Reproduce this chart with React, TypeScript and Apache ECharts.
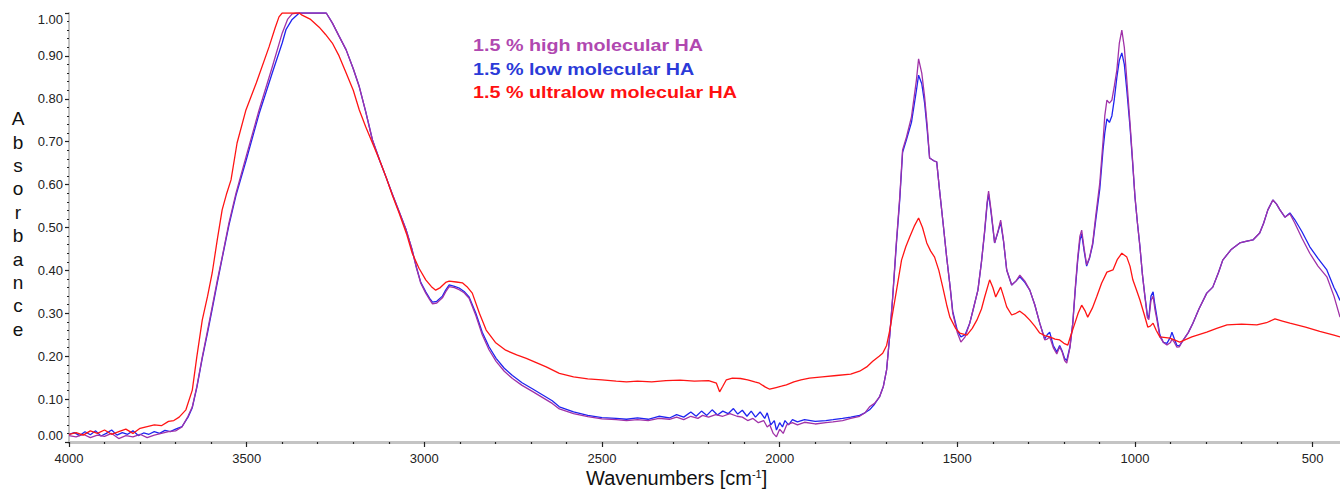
import React, { useEffect, useRef } from "react";
import * as echarts from "echarts";

// [wavenumber cm-1, absorbance]
const highMolecularHA: [number, number][] = [
  [4000, 0.015], [3980, 0.012], [3960, 0.018], [3940, 0.01], [3920, 0.016], [3900, 0.013], [3880, 0.02], [3860, 0.008],
  [3840, 0.015], [3820, 0.012], [3800, 0.018], [3780, 0.01], [3760, 0.016], [3740, 0.02], [3720, 0.024], [3700, 0.026],
  [3682, 0.035], [3665, 0.06], [3653, 0.082], [3640, 0.13], [3625, 0.198], [3610, 0.26], [3597, 0.315], [3583, 0.375],
  [3569, 0.431], [3550, 0.51], [3530, 0.58], [3502, 0.664], [3465, 0.774], [3428, 0.874], [3400, 0.953], [3385, 0.985],
  [3372, 0.998], [3360, 1.0], [3276, 1.0], [3259, 0.977], [3240, 0.946], [3220, 0.914], [3200, 0.87], [3183, 0.828],
  [3165, 0.77], [3146, 0.704], [3125, 0.655], [3108, 0.618], [3091, 0.58], [3070, 0.535], [3051, 0.494], [3035, 0.45],
  [3023, 0.408], [3010, 0.37], [2996, 0.347], [2985, 0.332], [2977, 0.322], [2965, 0.324], [2949, 0.336], [2940, 0.35],
  [2930, 0.362], [2915, 0.36], [2902, 0.355], [2888, 0.348], [2874, 0.335], [2855, 0.295], [2837, 0.25], [2818, 0.215],
  [2798, 0.188], [2775, 0.165], [2752, 0.148], [2725, 0.132], [2696, 0.118], [2668, 0.104], [2640, 0.09], [2620, 0.077],
  [2580, 0.066], [2540, 0.059], [2500, 0.054], [2460, 0.052], [2431, 0.05], [2400, 0.052], [2370, 0.05], [2340, 0.055],
  [2310, 0.053], [2290, 0.058], [2270, 0.052], [2250, 0.06], [2230, 0.055], [2217, 0.062], [2200, 0.058], [2180, 0.064],
  [2160, 0.06], [2140, 0.066], [2120, 0.06], [2105, 0.058], [2090, 0.05], [2075, 0.055], [2060, 0.045], [2045, 0.05],
  [2035, 0.035], [2028, 0.04], [2018, 0.02], [2009, 0.012], [2000, 0.03], [1990, 0.02], [1980, 0.04], [1964, 0.045],
  [1950, 0.04], [1930, 0.046], [1900, 0.042], [1870, 0.045], [1850, 0.047], [1823, 0.05], [1800, 0.055], [1775, 0.06],
  [1760, 0.068], [1747, 0.082], [1733, 0.09], [1719, 0.105], [1708, 0.13], [1699, 0.168], [1690, 0.25], [1682, 0.338],
  [1672, 0.46], [1662, 0.571], [1654, 0.681], [1643, 0.711], [1629, 0.758], [1615, 0.844], [1609, 0.893], [1600, 0.86],
  [1592, 0.804], [1585, 0.74], [1578, 0.662], [1565, 0.655], [1558, 0.653], [1550, 0.587], [1540, 0.51], [1530, 0.431],
  [1520, 0.36], [1513, 0.301], [1500, 0.255], [1490, 0.233], [1478, 0.245], [1465, 0.277], [1455, 0.31], [1442, 0.354],
  [1432, 0.42], [1423, 0.494], [1416, 0.56], [1412, 0.585], [1405, 0.54], [1395, 0.464], [1386, 0.49], [1378, 0.517],
  [1370, 0.47], [1361, 0.401], [1347, 0.366], [1335, 0.375], [1324, 0.389], [1310, 0.375], [1296, 0.354], [1282, 0.32],
  [1268, 0.277], [1254, 0.238], [1247, 0.24], [1240, 0.245], [1230, 0.22], [1220, 0.205], [1212, 0.222], [1205, 0.21],
  [1198, 0.19], [1192, 0.184], [1183, 0.22], [1175, 0.277], [1168, 0.36], [1161, 0.431], [1155, 0.48], [1150, 0.494],
  [1143, 0.45], [1136, 0.413], [1128, 0.43], [1119, 0.464], [1110, 0.53], [1099, 0.604], [1090, 0.7], [1085, 0.76],
  [1079, 0.797], [1072, 0.79], [1065, 0.797], [1058, 0.83], [1051, 0.867], [1044, 0.93], [1037, 0.96], [1030, 0.92],
  [1023, 0.844], [1014, 0.744], [1007, 0.66], [1000, 0.571], [993, 0.51], [986, 0.455], [979, 0.39], [972, 0.338],
  [965, 0.29], [961, 0.285], [955, 0.33], [949, 0.34], [944, 0.31], [938, 0.284], [930, 0.245], [920, 0.232],
  [910, 0.226], [900, 0.232], [896, 0.24], [889, 0.232], [882, 0.221], [875, 0.222], [868, 0.233], [850, 0.255],
  [837, 0.277], [820, 0.31], [798, 0.347], [781, 0.361], [765, 0.395], [753, 0.424], [730, 0.448], [705, 0.464],
  [685, 0.468], [668, 0.471], [649, 0.487], [638, 0.51], [626, 0.541], [612, 0.564], [602, 0.555], [592, 0.541],
  [578, 0.524], [564, 0.532], [550, 0.51], [530, 0.475], [508, 0.44], [485, 0.41], [460, 0.385], [440, 0.34], [423, 0.291],
];

const lowMolecularHA: [number, number][] = [
  [4000, 0.018], [3985, 0.022], [3970, 0.015], [3955, 0.024], [3940, 0.017], [3925, 0.026], [3910, 0.014], [3895, 0.02],
  [3880, 0.028], [3865, 0.016], [3850, 0.022], [3835, 0.018], [3820, 0.026], [3805, 0.015], [3790, 0.021], [3775, 0.018],
  [3760, 0.024], [3745, 0.02], [3730, 0.027], [3715, 0.024], [3700, 0.03], [3682, 0.036], [3665, 0.058], [3653, 0.08],
  [3640, 0.128], [3625, 0.195], [3610, 0.255], [3597, 0.31], [3583, 0.37], [3569, 0.428], [3550, 0.505], [3530, 0.575],
  [3502, 0.655], [3465, 0.765], [3428, 0.86], [3400, 0.93], [3389, 0.962], [3372, 0.985], [3352, 1.0], [3276, 1.0],
  [3259, 0.977], [3240, 0.946], [3220, 0.914], [3200, 0.87], [3183, 0.828], [3165, 0.77], [3146, 0.704], [3125, 0.655],
  [3108, 0.618], [3091, 0.58], [3070, 0.535], [3051, 0.494], [3035, 0.45], [3023, 0.41], [3010, 0.372], [2996, 0.35],
  [2985, 0.335], [2977, 0.326], [2965, 0.328], [2949, 0.34], [2940, 0.354], [2930, 0.366], [2915, 0.363], [2902, 0.359],
  [2888, 0.351], [2874, 0.338], [2855, 0.3], [2837, 0.256], [2818, 0.222], [2798, 0.195], [2775, 0.172], [2752, 0.155],
  [2725, 0.138], [2696, 0.124], [2668, 0.11], [2640, 0.096], [2620, 0.082], [2580, 0.07], [2540, 0.062], [2500, 0.057],
  [2460, 0.055], [2431, 0.053], [2400, 0.056], [2370, 0.053], [2340, 0.06], [2310, 0.056], [2290, 0.064], [2270, 0.058],
  [2250, 0.07], [2235, 0.06], [2220, 0.072], [2205, 0.062], [2190, 0.075], [2175, 0.063], [2160, 0.072], [2145, 0.066],
  [2130, 0.078], [2118, 0.065], [2105, 0.074], [2092, 0.06], [2080, 0.072], [2068, 0.058], [2055, 0.07], [2042, 0.055],
  [2035, 0.068], [2025, 0.04], [2015, 0.05], [2009, 0.028], [2000, 0.045], [1992, 0.035], [1985, 0.05], [1975, 0.04],
  [1964, 0.052], [1950, 0.047], [1930, 0.052], [1900, 0.048], [1870, 0.05], [1850, 0.052], [1823, 0.055], [1800, 0.058],
  [1775, 0.062], [1760, 0.068], [1747, 0.075], [1733, 0.088], [1719, 0.105], [1708, 0.13], [1699, 0.168], [1690, 0.25],
  [1682, 0.335], [1672, 0.455], [1662, 0.565], [1654, 0.675], [1643, 0.705], [1629, 0.745], [1615, 0.82], [1609, 0.855],
  [1600, 0.835], [1592, 0.79], [1585, 0.73], [1578, 0.662], [1565, 0.655], [1558, 0.653], [1550, 0.587], [1540, 0.51],
  [1530, 0.431], [1520, 0.36], [1513, 0.305], [1500, 0.26], [1490, 0.245], [1478, 0.25], [1465, 0.277], [1455, 0.31],
  [1442, 0.354], [1432, 0.42], [1423, 0.49], [1416, 0.555], [1412, 0.578], [1405, 0.535], [1395, 0.464], [1386, 0.488],
  [1378, 0.512], [1370, 0.468], [1361, 0.401], [1347, 0.366], [1335, 0.375], [1324, 0.385], [1310, 0.372], [1296, 0.354],
  [1282, 0.32], [1268, 0.277], [1254, 0.24], [1247, 0.25], [1240, 0.256], [1230, 0.225], [1220, 0.21], [1212, 0.225],
  [1205, 0.212], [1198, 0.195], [1192, 0.19], [1183, 0.222], [1175, 0.277], [1168, 0.355], [1161, 0.425], [1155, 0.47],
  [1150, 0.485], [1143, 0.445], [1136, 0.41], [1128, 0.428], [1119, 0.46], [1110, 0.52], [1099, 0.59], [1090, 0.68],
  [1085, 0.72], [1079, 0.753], [1072, 0.745], [1065, 0.76], [1058, 0.8], [1051, 0.85], [1044, 0.89], [1037, 0.907],
  [1030, 0.88], [1023, 0.82], [1014, 0.735], [1007, 0.655], [1000, 0.571], [993, 0.51], [986, 0.455], [979, 0.39],
  [972, 0.34], [965, 0.295], [961, 0.29], [955, 0.34], [949, 0.35], [944, 0.32], [938, 0.29], [930, 0.25],
  [920, 0.232], [910, 0.23], [900, 0.245], [896, 0.256], [889, 0.24], [882, 0.225], [875, 0.224], [868, 0.233],
  [850, 0.255], [837, 0.277], [820, 0.31], [798, 0.347], [781, 0.361], [765, 0.395], [753, 0.424], [730, 0.448],
  [705, 0.464], [685, 0.468], [668, 0.471], [649, 0.487], [638, 0.51], [626, 0.541], [612, 0.564], [602, 0.555],
  [592, 0.541], [578, 0.524], [564, 0.534], [550, 0.518], [530, 0.49], [508, 0.455], [485, 0.428], [460, 0.401],
  [440, 0.36], [432, 0.347], [423, 0.33],
];

const ultralowMolecularHA: [number, number][] = [
  [4000, 0.018], [3980, 0.022], [3960, 0.016], [3940, 0.026], [3920, 0.02], [3900, 0.028], [3880, 0.018], [3860, 0.024],
  [3840, 0.03], [3820, 0.02], [3800, 0.032], [3780, 0.036], [3760, 0.04], [3740, 0.038], [3720, 0.048], [3705, 0.05],
  [3690, 0.058], [3671, 0.075], [3653, 0.121], [3640, 0.2], [3625, 0.284], [3610, 0.34], [3597, 0.394], [3583, 0.47],
  [3569, 0.541], [3556, 0.58], [3544, 0.611], [3527, 0.697], [3502, 0.774], [3473, 0.837], [3437, 0.921], [3420, 0.965],
  [3409, 0.991], [3400, 1.0], [3352, 1.0], [3344, 0.995], [3320, 0.985], [3296, 0.967], [3278, 0.95], [3259, 0.93],
  [3240, 0.9], [3220, 0.86], [3200, 0.82], [3183, 0.774], [3165, 0.735], [3146, 0.697], [3125, 0.655], [3108, 0.618],
  [3090, 0.575], [3071, 0.534], [3050, 0.485], [3034, 0.44], [3015, 0.405], [2996, 0.378], [2980, 0.362], [2968, 0.354],
  [2955, 0.36], [2940, 0.372], [2930, 0.375], [2910, 0.373], [2893, 0.371], [2880, 0.362], [2865, 0.347], [2845, 0.3],
  [2826, 0.261], [2800, 0.232], [2771, 0.214], [2740, 0.203], [2713, 0.195], [2685, 0.185], [2657, 0.175], [2620, 0.16],
  [2580, 0.152], [2540, 0.147], [2500, 0.145], [2460, 0.142], [2431, 0.14], [2400, 0.142], [2360, 0.14], [2320, 0.143],
  [2280, 0.144], [2240, 0.142], [2200, 0.143], [2178, 0.137], [2169, 0.117], [2160, 0.13], [2150, 0.145], [2133, 0.149],
  [2110, 0.148], [2090, 0.145], [2070, 0.14], [2057, 0.137], [2040, 0.128], [2028, 0.123], [2010, 0.127], [1995, 0.13],
  [1981, 0.133], [1960, 0.14], [1940, 0.145], [1916, 0.149], [1880, 0.152], [1840, 0.155], [1800, 0.158], [1775, 0.165],
  [1755, 0.175], [1738, 0.188], [1720, 0.2], [1710, 0.207], [1699, 0.225], [1690, 0.261], [1680, 0.31], [1671, 0.354],
  [1657, 0.424], [1645, 0.455], [1634, 0.478], [1620, 0.505], [1609, 0.522], [1598, 0.5], [1586, 0.464], [1575, 0.445],
  [1564, 0.431], [1552, 0.4], [1541, 0.361], [1530, 0.32], [1521, 0.291], [1505, 0.265], [1493, 0.254], [1473, 0.249],
  [1458, 0.265], [1445, 0.284], [1432, 0.31], [1423, 0.338], [1409, 0.378], [1400, 0.36], [1392, 0.338], [1385, 0.35],
  [1378, 0.361], [1370, 0.34], [1361, 0.315], [1347, 0.296], [1335, 0.3], [1324, 0.305], [1310, 0.296], [1296, 0.284],
  [1282, 0.27], [1268, 0.254], [1254, 0.248], [1240, 0.245], [1225, 0.24], [1212, 0.238], [1200, 0.23], [1189, 0.226],
  [1180, 0.25], [1169, 0.277], [1160, 0.3], [1150, 0.319], [1140, 0.305], [1133, 0.291], [1120, 0.312], [1108, 0.338],
  [1094, 0.37], [1079, 0.396], [1062, 0.401], [1050, 0.425], [1037, 0.44], [1023, 0.431], [1014, 0.41], [1006, 0.378],
  [996, 0.355], [986, 0.331], [975, 0.3], [964, 0.268], [957, 0.27], [949, 0.277], [940, 0.26], [930, 0.245],
  [902, 0.242], [874, 0.233], [840, 0.245], [798, 0.256], [770, 0.265], [741, 0.273], [700, 0.275], [657, 0.273],
  [630, 0.278], [606, 0.287], [585, 0.282], [564, 0.277], [520, 0.268], [480, 0.258], [440, 0.249], [423, 0.245],
];

const majorWavenumbers = [4000, 3500, 3000, 2500, 2000, 1500, 1000, 500];
const minorWavenumbers = [
  3900, 3800, 3700, 3600, 3400, 3300, 3200, 3100, 2900, 2800, 2700, 2600, 2400, 2300, 2200, 2100,
  1900, 1800, 1700, 1600, 1400, 1300, 1200, 1100, 900, 800, 700, 600,
];

const seriesNames = ["1.5 % high molecular HA", "1.5 % low molecular HA", "1.5 % ultralow molecular HA"];
const seriesColors = ["#a032a8", "#1f24f0", "#ff1414"];
const legendColors = ["#b048b0", "#2b3ad8", "#ff1010"];

export default function App() {
  const ref = useRef<HTMLDivElement>(null);
  useEffect(() => {
    if (!ref.current) return;
    const chart = echarts.init(ref.current, null, { renderer: "svg" });
    const font = "'Liberation Sans', Arial, sans-serif";
    const xCommon = {
      type: "value" as const,
      min: 423,
      max: 4000,
      inverse: true,
      position: "bottom" as const,
      splitLine: { show: false },
    };
    chart.setOption({
      animation: false,
      backgroundColor: "#ffffff",
      grid: { left: 69, right: 0, top: 13, bottom: 48, containLabel: false },
      xAxis: [
        {
          ...xCommon,
          axisLine: { show: true, lineStyle: { color: "#c4c4c4", width: 3 } },
          axisTick: { show: true, customValues: majorWavenumbers, length: 5, lineStyle: { color: "#222", width: 1.2 } },
          axisLabel: {
            show: true,
            customValues: majorWavenumbers,
            margin: 10,
            color: "#222",
            fontSize: 13,
            fontFamily: font,
            formatter: (v: number) => String(Math.round(v)),
          },
        },
        {
          ...xCommon,
          axisLine: { show: false },
          axisTick: { show: true, customValues: minorWavenumbers, length: 2, lineStyle: { color: "#222", width: 1.2 } },
          axisLabel: { show: false },
        },
      ],
      yAxis: {
        type: "value",
        min: 0,
        max: 1,
        interval: 0.1,
        splitLine: { show: false },
        axisLine: { show: true, lineStyle: { color: "#c4c4c4", width: 2 } },
        axisTick: { show: true, length: 4, lineStyle: { color: "#222", width: 1.2 } },
        minorTick: { show: true, splitNumber: 5, length: 2, lineStyle: { color: "#222", width: 1.2 } },
        axisLabel: {
          color: "#222",
          fontSize: 13,
          fontFamily: font,
          margin: 6,
          formatter: (v: number) => v.toFixed(2),
          verticalAlignMinLabel: "bottom",
          verticalAlignMaxLabel: "top",
        },
      },
      series: [lowMolecularHA, highMolecularHA, ultralowMolecularHA].map((d, i) => {
        const idx = [1, 0, 2][i];
        return {
          type: "line",
          name: seriesNames[idx],
          data: d,
          xAxisIndex: 0,
          showSymbol: false,
          symbol: "none",
          lineStyle: { color: seriesColors[idx], width: 1.3 },
          z: 2 + i,
        };
      }),
      graphic: [
        ...seriesNames.map((name, i) => ({
          type: "text",
          x: 473,
          y: 45 + i * 23.5,
          scaleX: 1.16,
          style: {
            text: name,
            fill: legendColors[i],
            font: `bold 17px ${font}`,
            verticalAlign: "middle",
          },
        })),
        {
          type: "text",
          x: 18,
          y: 107,
          style: {
            text: "A\nb\ns\no\nr\nb\na\nn\nc\ne",
            fill: "#111",
            font: `19px ${font}`,
            align: "center",
            lineHeight: 23.4,
          },
        },
        {
          type: "text",
          x: 586,
          y: 478,
          style: {
            text: "{a|Wavenumbers [cm}{s|-1}{a|]}",
            fill: "#111",
            verticalAlign: "middle",
            rich: {
              a: { fontSize: 20, fontFamily: font, lineHeight: 20, fill: "#111", verticalAlign: "bottom" },
              s: { fontSize: 11, fontFamily: font, lineHeight: 20, fill: "#111", verticalAlign: "top" },
            },
          },
        },
      ],
    });
    return () => chart.dispose();
  }, []);
  return <div ref={ref} style={{ position: "absolute", left: 0, top: 0, width: 1340, height: 490 }} />;
}
